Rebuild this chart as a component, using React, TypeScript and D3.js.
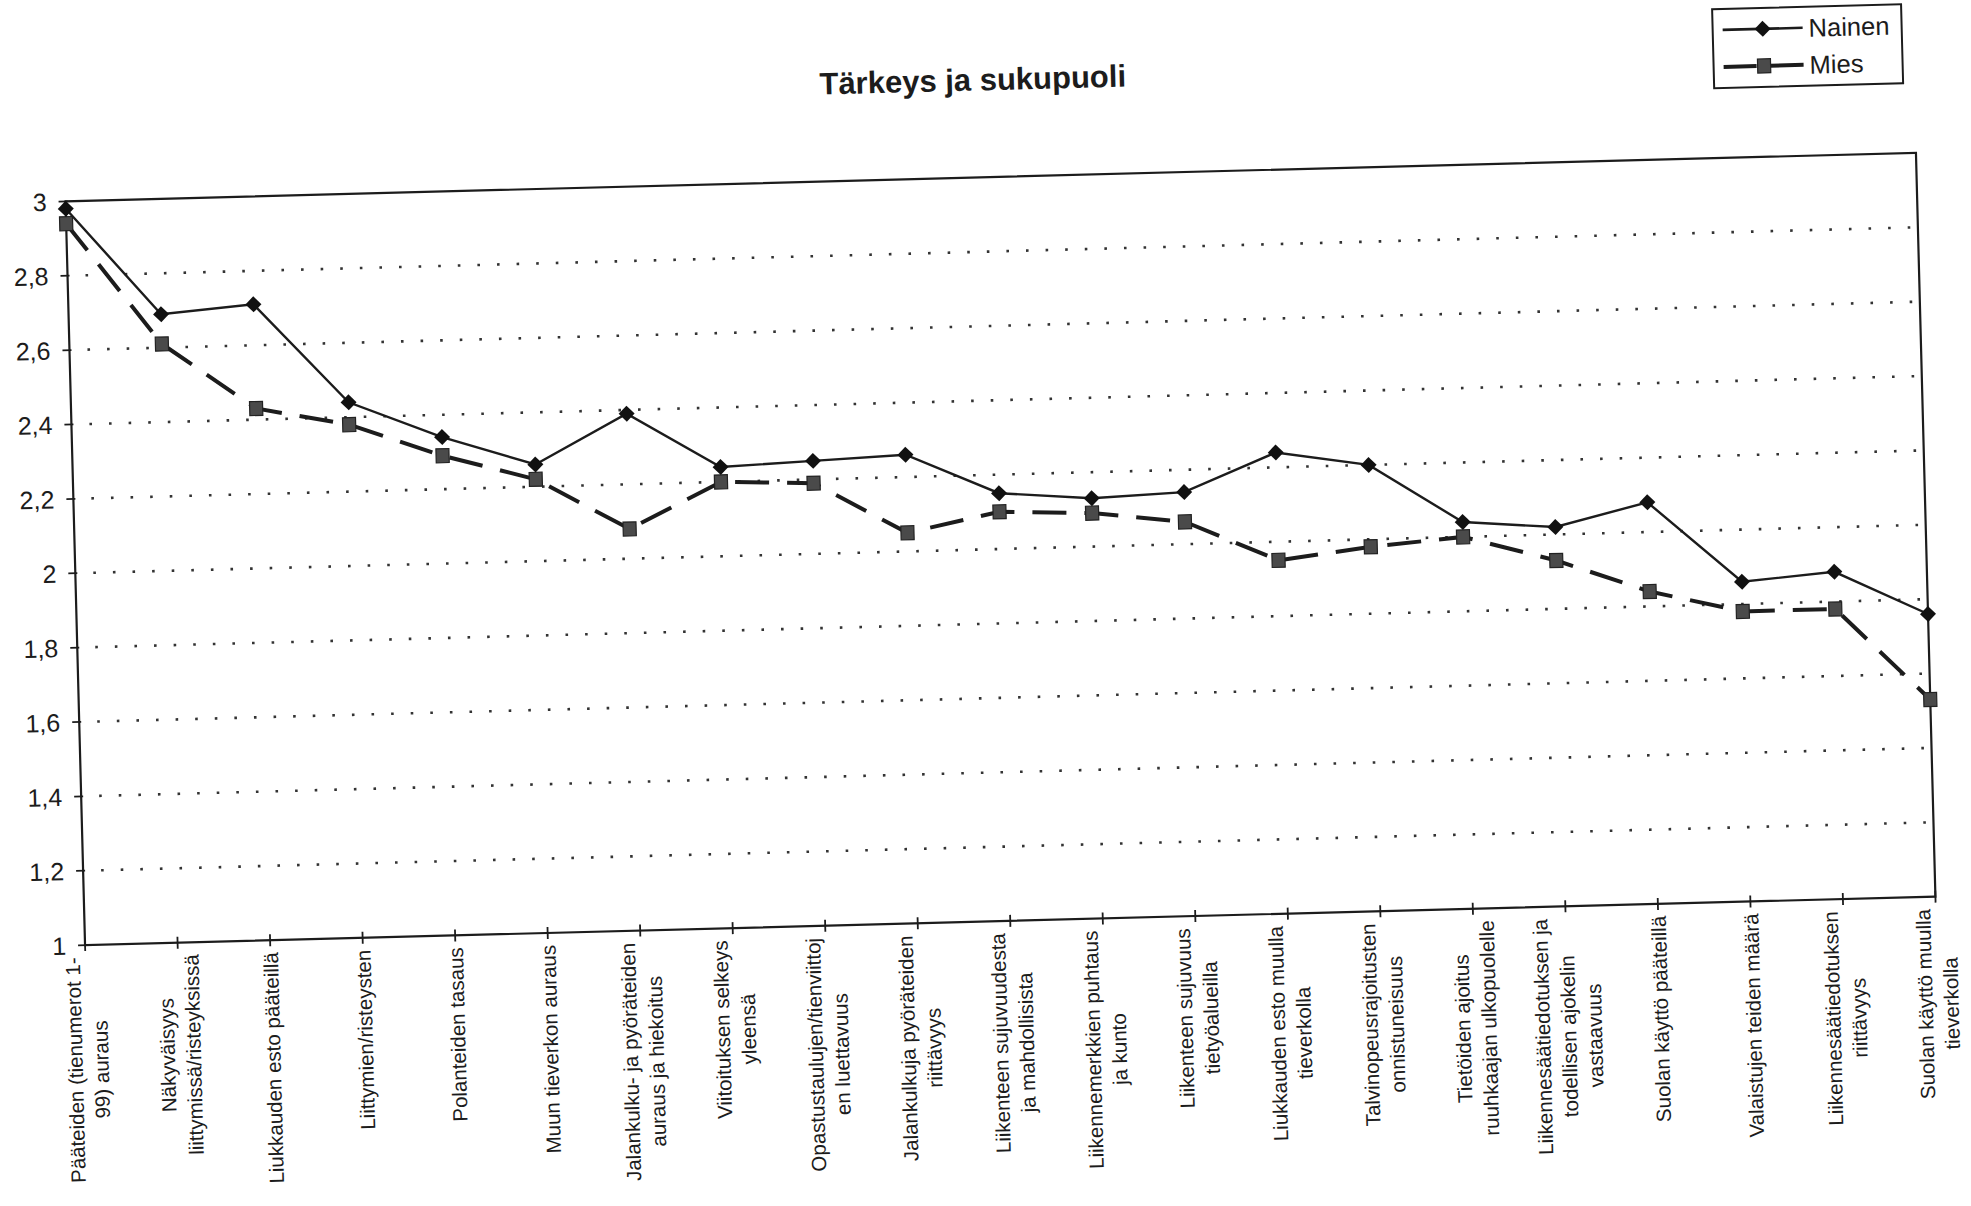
import React from "react";
import * as d3 from "d3";

const categories: string[][] = [
  ["Pääteiden (tienumerot 1-", "99) auraus"],
  ["Näkyväisyys", "liittymissä/risteyksissä"],
  ["Liukkauden esto pääteillä"],
  ["Liittymien/risteysten"],
  ["Polanteiden tasaus"],
  ["Muun tieverkon auraus"],
  ["Jalankulku- ja pyöräteiden", "auraus ja hiekoitus"],
  ["Viitoituksen selkeys", "yleensä"],
  ["Opastustaulujen/tienviittoj", "en luettavuus"],
  ["Jalankulkuja pyöräteiden", "riittävyys"],
  ["Liikenteen sujuvuudesta", "ja mahdollisista"],
  ["Liikennemerkkien puhtaus", "ja kunto"],
  ["Liikenteen sujuvuus", "tietyöalueilla"],
  ["Liukkauden esto muulla", "tieverkolla"],
  ["Talvinopeusrajoitusten", "onnistuneisuus"],
  ["Tietöiden ajoitus", "ruuhkaajan ulkopuolelle"],
  ["Liikennesäätiedotuksen ja", "todellisen ajokelin", "vastaavuus"],
  ["Suolan käyttö pääteillä"],
  ["Valaistujen teiden määrä"],
  ["Liikennesäätiedotuksen", "riittävyys"],
  ["Suolan käyttö muulla", "tieverkolla"],
];

const nainen: number[] = [2.98, 2.69, 2.71, 2.44, 2.34, 2.26, 2.39, 2.24, 2.25, 2.26, 2.15, 2.13, 2.14, 2.24, 2.2, 2.04, 2.02, 2.08, 1.86, 1.88, 1.76];
const mies: number[] = [2.94, 2.61, 2.43, 2.38, 2.29, 2.22, 2.08, 2.2, 2.19, 2.05, 2.1, 2.09, 2.06, 1.95, 1.98, 2.0, 1.93, 1.84, 1.78, 1.78, 1.53];

const yTicks: number[] = [1, 1.2, 1.4, 1.6, 1.8, 2, 2.2, 2.4, 2.6, 2.8, 3];
const gridTicks: number[] = [1.2, 1.4, 1.6, 1.8, 2, 2.2, 2.4, 2.6, 2.8];

const title = "Tärkeys ja sukupuoli";
const seriesNames = ["Nainen", "Mies"];

const FONT = '"Liberation Sans", Arial, sans-serif';
const INK = "#1c1c1c";

const W = 1971;
const H = 1206;
const left = 75;
const right = 1926;
const top = 177;
const bottom = 921;
const labelFont = 20.5;
const lineGap = 26;

let measureCtx: CanvasRenderingContext2D | null = null;
function textWidth(s: string, size: number): number {
  if (!measureCtx) {
    const c = document.createElement("canvas");
    measureCtx = c.getContext("2d");
  }
  if (!measureCtx) return s.length * size * 0.5;
  measureCtx.font = `${size}px ${FONT}`;
  return measureCtx.measureText(s).width;
}

function diamond(cx: number, cy: number, r: number) {
  return `M${cx},${cy - r}L${cx + r},${cy}L${cx},${cy + r}L${cx - r},${cy}Z`;
}

export default function App() {
  const keys = categories.map((_, i) => String(i));
  const x = d3.scalePoint<string>().domain(keys).range([left, right]).padding(0);
  const y = d3.scaleLinear().domain([1, 3]).range([bottom, top]);

  const line = d3
    .line<number>()
    .x((_, i) => x(String(i)) as number)
    .y((d) => y(d));

  const cx = (left + right) / 2;
  const cy = (top + bottom) / 2;

  const legX = 1726;
  const legY = 28;
  const legW = 189;
  const legH = 79;

  return (
    <svg
      width={W}
      height={H}
      style={{ position: "absolute", left: 0, top: 0, display: "block", background: "#fff" }}
      fontFamily={FONT}
    >
      <rect x={0} y={0} width={W} height={H} fill="#ffffff" />
      <g transform={`rotate(-1.5, ${cx}, ${cy})`}>
        {/* title */}
        <text x={985} y={90} textAnchor="middle" fontSize={31} fontWeight="bold" fill={INK}>
          {title}
        </text>

        {/* dotted gridlines */}
        {gridTicks.map((t) => (
          <line
            key={"g" + t}
            x1={left + 18}
            x2={right}
            y1={y(t)}
            y2={y(t)}
            stroke="#333"
            strokeWidth={2.6}
            strokeDasharray="2.6,17"
          />
        ))}

        {/* plot frame */}
        <rect x={left} y={top} width={right - left} height={bottom - top} fill="none" stroke={INK} strokeWidth={2.2} />

        {/* y ticks + labels */}
        {yTicks.map((t) => (
          <g key={"y" + t}>
            <line x1={left - 7} x2={left + 2} y1={y(t)} y2={y(t)} stroke={INK} strokeWidth={1.8} />
            <text x={left - 19} y={y(t) + 9} textAnchor="end" fontSize={25} fill={INK}>
              {String(t).replace(".", ",")}
            </text>
          </g>
        ))}

        {/* x ticks + labels */}
        {categories.map((lines, i) => {
          const px = x(String(i)) as number;
          const maxW = Math.max(...lines.map((l) => textWidth(l, labelFont)));
          const cyLab = bottom + 12 + maxW / 2;
          return (
            <g key={"x" + i}>
              <line x1={px} x2={px} y1={bottom - 6} y2={bottom + 6} stroke={INK} strokeWidth={1.8} />
              <g transform={`translate(${px},${cyLab}) rotate(-90)`}>
                {lines.map((l, j) => (
                  <text
                    key={j}
                    x={0}
                    y={(j - (lines.length - 1) / 2) * lineGap + 7.5}
                    textAnchor="middle"
                    fontSize={labelFont}
                    fill={INK}
                  >
                    {l}
                  </text>
                ))}
              </g>
            </g>
          );
        })}

        {/* Mies series */}
        <path d={line(mies) || ""} fill="none" stroke={INK} strokeWidth={4} strokeDasharray="34,18" />
        {mies.map((v, i) => {
          const px = x(String(i)) as number;
          return (
            <rect key={"m" + i} x={px - 6.5} y={y(v) - 7} width={13} height={14} fill="#4a4a4a" stroke="#222" strokeWidth={1.2} />
          );
        })}

        {/* Nainen series */}
        <path d={line(nainen) || ""} fill="none" stroke={INK} strokeWidth={2.4} />
        {nainen.map((v, i) => {
          const px = x(String(i)) as number;
          return <path key={"n" + i} d={diamond(px, y(v), 8)} fill="#111" />;
        })}

        {/* legend */}
        <rect x={legX} y={legY} width={legW} height={legH} fill="#fff" stroke={INK} strokeWidth={2} />
        <line x1={legX + 10} x2={legX + 90} y1={legY + 21} y2={legY + 21} stroke={INK} strokeWidth={2.6} />
        <path d={diamond(legX + 50, legY + 21, 8)} fill="#111" />
        <text x={legX + 96} y={legY + 30} fontSize={25.5} fill={INK}>
          {seriesNames[0]}
        </text>
        <line x1={legX + 10} x2={legX + 90} y1={legY + 58} y2={legY + 58} stroke={INK} strokeWidth={4} strokeDasharray="33,14" />
        <rect x={legX + 44} y={legY + 51} width={13} height={14} fill="#4a4a4a" stroke="#222" strokeWidth={1.2} />
        <text x={legX + 96} y={legY + 67} fontSize={25.5} fill={INK}>
          {seriesNames[1]}
        </text>
      </g>
    </svg>
  );
}
